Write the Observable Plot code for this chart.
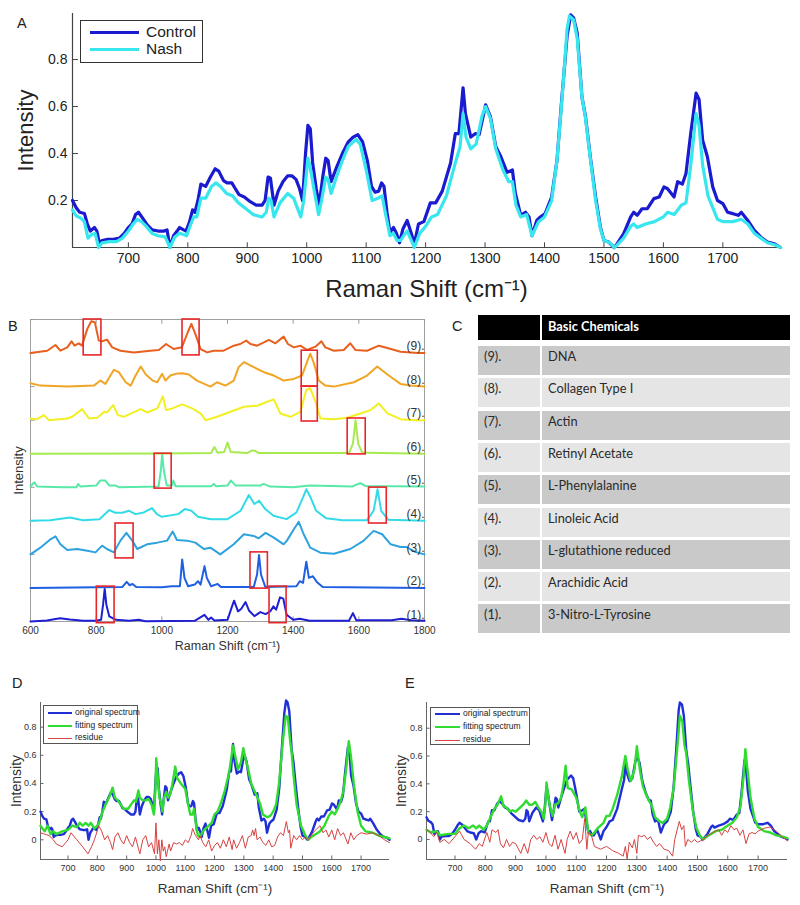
<!DOCTYPE html>
<html><head><meta charset="utf-8">
<script src="https://cdn.jsdelivr.net/npm/d3@7"></script>
<script src="https://cdn.jsdelivr.net/npm/@observablehq/plot@0.6"></script>
<style>
body{margin:0;background:#fff;}
#root{position:relative;width:800px;height:905px;overflow:hidden;font-family:'Liberation Sans',Arial,sans-serif;color:#222;}
.lbl{position:absolute;font-size:14px;line-height:14px;}
.cell{position:absolute;font-family:Lato,'Open Sans',sans-serif;font-size:12.8px;color:#2a2a2a;box-sizing:border-box;padding:3px 0 0 6px;line-height:15px;}
.leg{position:absolute;background:#fff;box-sizing:border-box;}
.legline{position:absolute;}
.legtxt{position:absolute;white-space:nowrap;}
</style></head><body><div id="root"></div>
<script>
// ---------------- DATA ----------------
// Panel A
const xDomA = [606, 1797];
const yDomA = [0, 0.996];
const xTicksA = [700, 800, 900, 1000, 1100, 1200, 1300, 1400, 1500, 1600, 1700];
const yTicksA = [0.2, 0.4, 0.6, 0.8];
const seriesA = ["Control", "Nash"];
const control = [[606,0.20],[612,0.17],[618,0.15],[626,0.145],[631,0.10],[636,0.07],[643,0.085],[647,0.07],[651,0.02],[656,0.03],[665,0.035],[675,0.035],[685,0.04],[693,0.06],[700,0.085],[706,0.10],[712,0.14],[717,0.15],[724,0.125],[732,0.095],[740,0.075],[750,0.07],[760,0.07],[765,0.075],[770,0.0],[776,0.05],[782,0.07],[786,0.085],[793,0.075],[797,0.07],[803,0.11],[808,0.16],[812,0.15],[817,0.20],[822,0.27],[830,0.26],[838,0.30],[846,0.335],[852,0.325],[860,0.285],[866,0.275],[874,0.275],[880,0.25],[886,0.225],[895,0.215],[905,0.195],[915,0.18],[925,0.18],[930,0.20],[935,0.30],[939,0.295],[945,0.18],[952,0.24],[960,0.28],[968,0.305],[975,0.305],[982,0.29],[988,0.25],[993,0.20],[998,0.40],[1002,0.52],[1006,0.505],[1010,0.36],[1016,0.25],[1021,0.18],[1027,0.30],[1032,0.38],[1036,0.37],[1041,0.28],[1050,0.34],[1060,0.40],[1070,0.45],[1078,0.47],[1086,0.48],[1094,0.45],[1102,0.37],[1109,0.26],[1115,0.235],[1121,0.24],[1126,0.275],[1130,0.26],[1135,0.15],[1140,0.065],[1146,0.085],[1151,0.06],[1156,0.02],[1162,0.08],[1169,0.115],[1176,0.06],[1181,0.015],[1188,0.10],[1197,0.11],[1208,0.19],[1217,0.19],[1228,0.24],[1242,0.36],[1250,0.485],[1256,0.485],[1263,0.68],[1267,0.57],[1276,0.47],[1284,0.485],[1290,0.48],[1301,0.607],[1309,0.557],[1318,0.43],[1326,0.39],[1337,0.32],[1346,0.33],[1351,0.23],[1360,0.137],[1368,0.15],[1374,0.13],[1379,0.05],[1387,0.115],[1393,0.13],[1401,0.144],[1412,0.215],[1421,0.37],[1429,0.63],[1438,0.90],[1444,0.99],[1449,0.977],[1455,0.913],[1463,0.64],[1469,0.557],[1477,0.386],[1486,0.215],[1494,0.087],[1500,0.03],[1508,0.023],[1517,0.0],[1522,0.015],[1533,0.058],[1545,0.13],[1550,0.15],[1556,0.137],[1564,0.165],[1573,0.165],[1584,0.208],[1593,0.215],[1601,0.258],[1607,0.25],[1618,0.215],[1624,0.28],[1632,0.27],[1638,0.315],[1646,0.486],[1655,0.657],[1660,0.63],[1666,0.457],[1674,0.386],[1683,0.258],[1691,0.20],[1700,0.187],[1708,0.15],[1717,0.144],[1726,0.137],[1731,0.15],[1742,0.115],[1753,0.073],[1764,0.044],[1775,0.023],[1787,0.016],[1797,0.0]];
const nash = [[606,0.16],[612,0.135],[620,0.125],[626,0.11],[632,0.04],[638,0.055],[644,0.06],[650,0.0],[656,0.02],[668,0.025],[680,0.025],[690,0.04],[700,0.07],[708,0.10],[715,0.12],[722,0.11],[730,0.09],[740,0.06],[750,0.05],[762,0.045],[770,0.0],[778,0.045],[786,0.06],[793,0.055],[798,0.05],[805,0.10],[810,0.13],[815,0.13],[822,0.21],[830,0.21],[840,0.26],[847,0.275],[855,0.26],[865,0.23],[875,0.22],[885,0.19],[895,0.17],[910,0.14],[925,0.13],[932,0.15],[936,0.21],[940,0.20],[945,0.13],[955,0.19],[968,0.23],[978,0.21],[990,0.13],[995,0.20],[1002,0.38],[1006,0.34],[1012,0.25],[1020,0.14],[1025,0.20],[1032,0.30],[1036,0.29],[1041,0.23],[1050,0.30],[1060,0.37],[1070,0.43],[1083,0.46],[1090,0.44],[1100,0.33],[1110,0.20],[1120,0.21],[1127,0.22],[1132,0.15],[1140,0.05],[1146,0.06],[1152,0.03],[1158,0.03],[1163,0.05],[1169,0.07],[1176,0.03],[1181,0.0],[1190,0.06],[1200,0.09],[1210,0.13],[1220,0.14],[1235,0.22],[1250,0.36],[1258,0.43],[1263,0.57],[1268,0.47],[1276,0.42],[1285,0.44],[1295,0.56],[1301,0.60],[1309,0.55],[1318,0.42],[1330,0.33],[1340,0.28],[1346,0.28],[1352,0.18],[1360,0.13],[1370,0.14],[1379,0.05],[1390,0.11],[1400,0.13],[1412,0.20],[1421,0.37],[1430,0.65],[1438,0.93],[1442,0.985],[1449,0.97],[1455,0.89],[1463,0.64],[1469,0.55],[1477,0.38],[1486,0.20],[1494,0.08],[1500,0.03],[1510,0.02],[1517,0.0],[1522,0.01],[1533,0.04],[1545,0.09],[1550,0.10],[1556,0.085],[1570,0.10],[1585,0.11],[1600,0.13],[1607,0.15],[1618,0.14],[1630,0.18],[1638,0.19],[1646,0.35],[1655,0.57],[1660,0.52],[1666,0.35],[1675,0.22],[1683,0.17],[1691,0.12],[1700,0.11],[1717,0.11],[1731,0.12],[1742,0.10],[1753,0.06],[1764,0.04],[1775,0.02],[1787,0.012],[1797,0.0]];

// Panel B: reference spectra (normalised, stacked)
const xDomB = [600, 1800];
const xTicksB = [600, 800, 1000, 1200, 1400, 1600, 1800];
const specLabels = ["(1).", "(2).", "(3).", "(4).", "(5).", "(6).", "(7).", "(8).", "(9)."];
const specOffsets = [0, 1, 2, 3, 4, 5, 6, 7, 8];
const spec1 = [[600,0],[650,0.03],[690,0.1],[720,0.06],[760,0.02],[800,0.02],[815,0.05],[821,0.5],[826,0.97],[831,0.5],[840,0.15],[860,0.05],[900,0.02],[930,0.05],[950,0.01],[1100,0.02],[1130,0.2],[1142,0.05],[1150,0.12],[1160,0.03],[1200,0.05],[1212,0.4],[1220,0.62],[1232,0.3],[1242,0.38],[1255,0.58],[1266,0.32],[1282,0.16],[1300,0.28],[1316,0.22],[1330,0.3],[1340,0.45],[1348,0.35],[1360,0.72],[1370,0.68],[1380,0.2],[1400,0.05],[1420,0.08],[1450,0.02],[1570,0.02],[1582,0.25],[1592,0.04],[1700,0.04],[1730,0.08],[1760,0.04],[1800,0.02]];
const spec2 = [[600,0],[800,0.02],[880,0.03],[893,0.18],[902,0.08],[911,0.12],[922,0.03],[1000,0.02],[1030,0.05],[1055,0.05],[1062,0.85],[1069,0.3],[1080,0.05],[1100,0.1],[1110,0.2],[1118,0.1],[1130,0.65],[1137,0.3],[1150,0.05],[1170,0.12],[1180,0.03],[1280,0.03],[1290,0.4],[1296,0.98],[1302,0.4],[1315,0.03],[1410,0.05],[1420,0.2],[1430,0.15],[1440,0.78],[1448,0.3],[1460,0.35],[1472,0.18],[1490,0.03],[1800,0.0]];
const spec3 = [[600,0],[630,0.2],[661,0.45],[676,0.54],[691,0.3],[712,0.13],[742,0.16],[773,0.11],[798,0.06],[818,0.26],[833,0.16],[854,0.06],[874,0.41],[892,0.64],[910,0.41],[925,0.16],[955,0.3],[986,0.35],[1016,0.41],[1033,0.68],[1046,0.43],[1077,0.41],[1102,0.35],[1128,0.16],[1148,0.2],[1178,0.0],[1219,0.3],[1250,0.6],[1280,0.55],[1295,0.48],[1316,0.64],[1341,0.5],[1371,0.3],[1381,0.41],[1402,0.75],[1417,0.97],[1432,0.6],[1452,0.2],[1483,0.05],[1524,0.02],[1574,0.16],[1615,0.41],[1645,0.7],[1671,0.6],[1697,0.3],[1727,0.22],[1745,0.22],[1770,0.08],[1800,0.0]];
const spec4 = [[600,0],[660,0.02],[720,0.1],[760,0.02],[810,0.05],[840,0.32],[858,0.24],[880,0.24],[900,0.3],[920,0.2],[945,0.25],[970,0.38],[985,0.2],[1000,0.12],[1050,0.2],[1070,0.35],[1090,0.3],[1110,0.12],[1150,0.05],[1200,0.05],[1240,0.3],[1265,0.77],[1282,0.5],[1296,0.6],[1315,0.35],[1340,0.15],[1380,0.05],[1410,0.25],[1430,0.7],[1440,0.94],[1452,0.72],[1470,0.3],[1500,0.08],[1550,0.02],[1625,0.02],[1645,0.3],[1657,0.94],[1668,0.3],[1690,0.03],[1800,0.0]];
const spec5 = [[600,0.03],[612,0.15],[620,0.02],[700,0.0],[740,0.0],[745,0.1],[752,0.02],[800,0.05],[812,0.2],[828,0.2],[840,0.05],[860,0.05],[870,0.0],[990,0.02],[997,0.5],[1001,1.0],[1006,0.5],[1015,0.05],[1030,0.05],[1035,0.2],[1042,0.03],[1150,0.03],[1158,0.1],[1165,0.03],[1200,0.05],[1210,0.2],[1225,0.05],[1300,0.05],[1310,0.1],[1330,0.02],[1400,0.0],[1450,0.05],[1580,0.02],[1590,0.07],[1605,0.12],[1620,0.04],[1800,0.02]];
const spec6 = [[600,0],[1000,0.01],[1150,0.02],[1160,0.2],[1170,0.03],[1190,0.05],[1200,0.33],[1210,0.05],[1260,0.02],[1275,0.1],[1285,0.08],[1295,0.02],[1570,0.02],[1582,0.3],[1590,1.0],[1598,0.3],[1610,0.03],[1630,0.03],[1800,0]];
const spec7 = [[600,0.05],[620,0.03],[641,0.15],[656,0.0],[712,0.05],[727,0.1],[757,0.33],[778,0.05],[803,0.07],[825,0.25],[833,0.23],[852,0.45],[866,0.15],[884,0.1],[935,0.33],[955,0.23],[986,0.35],[1003,0.71],[1013,0.3],[1026,0.33],[1062,0.47],[1092,0.35],[1118,0.2],[1133,0.0],[1168,0.1],[1209,0.25],[1250,0.4],[1290,0.43],[1321,0.55],[1341,0.62],[1361,0.2],[1392,0.1],[1422,0.25],[1440,0.9],[1452,0.95],[1468,0.55],[1483,0.05],[1524,0.03],[1564,0.07],[1605,0.2],[1636,0.3],[1661,0.5],[1687,0.2],[1727,0.03],[1768,0.0],[1800,0.0]];
const spec8 = [[600,0.1],[630,0.03],[712,0.0],[793,0.03],[813,0.18],[828,0.08],[854,0.5],[869,0.43],[890,0.13],[905,0.03],[920,0.33],[936,0.6],[951,0.36],[972,0.18],[986,0.13],[1001,0.38],[1011,0.18],[1026,0.33],[1042,0.38],[1062,0.4],[1082,0.36],[1107,0.18],[1148,0.0],[1168,0.13],[1194,0.03],[1219,0.18],[1234,0.58],[1250,0.73],[1280,0.58],[1311,0.43],[1341,0.33],[1371,0.18],[1402,0.23],[1427,0.33],[1442,0.73],[1452,0.98],[1462,0.73],[1478,0.18],[1498,0.03],[1524,0.0],[1585,0.13],[1625,0.33],[1656,0.6],[1687,0.36],[1727,0.08],[1758,0.03],[1800,0.0]];
const spec9 = [[600,0.0],[651,0.07],[676,0.24],[691,0.07],[712,0.17],[725,0.35],[734,0.22],[747,0.29],[757,0.22],[773,0.72],[785,0.95],[796,0.92],[808,0.37],[818,0.35],[833,0.4],[849,0.17],[874,0.07],[915,0.02],[965,0.07],[991,0.09],[1013,0.27],[1036,0.12],[1061,0.17],[1079,0.62],[1090,0.87],[1102,0.57],[1118,0.12],[1138,0.02],[1158,0.07],[1188,0.07],[1219,0.22],[1239,0.27],[1257,0.37],[1270,0.27],[1290,0.22],[1311,0.32],[1326,0.39],[1346,0.29],[1371,0.49],[1384,0.27],[1402,0.17],[1422,0.22],[1442,0.09],[1468,0.19],[1486,0.35],[1498,0.17],[1524,0.07],[1554,0.09],[1574,0.29],[1590,0.09],[1625,0.07],[1661,0.22],[1687,0.15],[1727,0.04],[1780,0.0],[1800,0.0]];
const spectra = [spec1, spec2, spec3, spec4, spec5, spec6, spec7, spec8, spec9];
const highlightBoxes = [
  {x1:762,x2:816,y1:7.93,y2:9},{x1:1063,x2:1115,y1:7.93,y2:9},
  {x1:1426,x2:1475,y1:7.0,y2:8.07},{x1:1426,x2:1475,y1:5.96,y2:7.0},
  {x1:1566,x2:1621,y1:4.98,y2:6.05},{x1:978,x2:1030,y1:3.96,y2:5.0},
  {x1:1631,x2:1685,y1:2.92,y2:3.99},{x1:859,x2:914,y1:1.88,y2:2.92},
  {x1:1270,x2:1323,y1:0.98,y2:2.06},{x1:802,x2:856,y1:-0.05,y2:1.04},
  {x1:1328,x2:1380,y1:-0.05,y2:1.04}];

// Panel C table
const tableHeader = ["", "Basic Chemicals"];
const tableNums = ["(9).", "(8).", "(7).", "(6).", "(5).", "(4).", "(3).", "(2).", "(1)."];
const tableNames = ["DNA", "Collagen Type I", "Actin", "Retinyl Acetate", "L-Phenylalanine", "Linoleic Acid", "L-glutathione reduced", "Arachidic Acid", "3-Nitro-L-Tyrosine"];

// Panels D & E
const xDomDE = [606, 1797];
const yDomD = [-0.14, 0.975];
const yDomE = [-0.144, 0.985];
const yTicksDE = [0, 0.2, 0.4, 0.6, 0.8];
const seriesDE = ["original spectrum", "fitting spectrum", "residue"];
const fitD = [[606,0.10],[620,0.06],[630,0.10],[640,0.04],[650,0.06],[660,0.04],[680,0.06],[700,0.07],[715,0.10],[730,0.09],[740,0.12],[750,0.10],[760,0.12],[770,0.10],[778,0.12],[790,0.08],[800,0.10],[806,0.12],[818,0.20],[830,0.26],[840,0.30],[852,0.37],[860,0.30],[870,0.28],[880,0.25],[890,0.22],[905,0.22],[915,0.25],[925,0.28],[932,0.27],[940,0.35],[945,0.30],[955,0.28],[965,0.28],[975,0.29],[985,0.25],[993,0.18],[998,0.35],[1001,0.58],[1006,0.45],[1012,0.30],[1018,0.25],[1022,0.20],[1028,0.30],[1035,0.34],[1042,0.30],[1050,0.33],[1058,0.42],[1066,0.52],[1072,0.44],[1085,0.40],[1100,0.36],[1110,0.25],[1117,0.18],[1125,0.18],[1130,0.22],[1137,0.10],[1143,0.03],[1150,0.02],[1160,0.06],[1170,0.08],[1180,0.10],[1190,0.12],[1200,0.18],[1210,0.20],[1220,0.25],[1235,0.35],[1250,0.48],[1263,0.67],[1270,0.60],[1280,0.50],[1290,0.55],[1298,0.65],[1305,0.58],[1315,0.50],[1325,0.40],[1340,0.33],[1355,0.26],[1365,0.18],[1380,0.16],[1390,0.17],[1400,0.20],[1410,0.25],[1420,0.40],[1433,0.70],[1443,0.88],[1450,0.87],[1458,0.70],[1463,0.62],[1470,0.45],[1480,0.25],[1495,0.10],[1510,0.03],[1520,0.00],[1530,0.02],[1545,0.04],[1560,0.06],[1575,0.10],[1590,0.17],[1600,0.20],[1610,0.18],[1620,0.22],[1630,0.27],[1640,0.35],[1650,0.52],[1658,0.70],[1665,0.60],[1675,0.40],[1688,0.20],[1700,0.10],[1715,0.06],[1740,0.05],[1760,0.03],[1780,0.02],[1797,0.01]];
const resD = [[606,0.05],[620,0.04],[635,0.03],[650,0.0],[660,-0.03],[680,-0.05],[700,0.0],[710,0.05],[730,0.0],[750,-0.05],[768,-0.1],[780,-0.05],[790,0.0],[805,0.1],[815,0.06],[825,0.0],[835,0.03],[845,-0.02],[852,-0.07],[860,0.02],[870,0.05],[880,0.0],[890,-0.03],[900,0.03],[910,-0.02],[920,-0.05],[930,0.02],[940,-0.06],[945,-0.1],[955,0.0],[965,0.03],[975,-0.05],[985,-0.02],[995,-0.1],[1000,0.12],[1005,-0.1],[1010,0.0],[1015,-0.15],[1020,0.0],[1025,-0.08],[1030,-0.05],[1035,-0.12],[1045,-0.03],[1050,-0.08],[1060,-0.02],[1070,-0.03],[1080,-0.02],[1090,-0.04],[1100,0.0],[1110,-0.02],[1120,0.03],[1125,0.08],[1135,0.03],[1145,0.0],[1150,0.03],[1160,-0.02],[1170,-0.05],[1180,0.0],[1190,-0.08],[1200,-0.04],[1210,-0.02],[1220,-0.06],[1230,0.0],[1240,-0.05],[1250,0.02],[1260,-0.07],[1265,0.0],[1275,-0.06],[1285,-0.02],[1295,0.03],[1305,-0.06],[1315,0.02],[1325,0.03],[1330,0.07],[1335,0.03],[1340,0.08],[1345,0.0],[1355,0.02],[1365,-0.02],[1375,-0.04],[1385,0.0],[1395,-0.05],[1405,-0.04],[1415,0.02],[1425,0.05],[1435,0.03],[1445,0.13],[1452,0.05],[1456,0.07],[1460,-0.06],[1470,0.03],[1480,0.0],[1490,0.03],[1500,0.0],[1510,0.02],[1520,0.0],[1530,0.03],[1540,0.06],[1560,0.1],[1570,0.05],[1580,0.07],[1590,0.02],[1600,0.07],[1610,0.0],[1620,0.08],[1630,0.03],[1640,0.05],[1655,-0.03],[1665,0.05],[1675,0.0],[1685,0.03],[1700,0.05],[1720,0.04],[1740,0.05],[1760,0.03],[1780,0.0],[1797,-0.02]];
const fitE = [[606,0.07],[620,0.05],[640,0.06],[650,0.03],[680,0.04],[700,0.04],[715,0.08],[730,0.10],[745,0.08],[760,0.10],[770,0.08],[780,0.10],[795,0.07],[805,0.10],[815,0.15],[830,0.22],[840,0.25],[852,0.31],[860,0.24],[870,0.23],[880,0.20],[890,0.21],[900,0.20],[915,0.23],[925,0.25],[935,0.28],[945,0.25],[955,0.25],[965,0.27],[975,0.23],[985,0.20],[993,0.15],[998,0.25],[1002,0.41],[1008,0.30],[1015,0.22],[1022,0.17],[1030,0.25],[1040,0.26],[1050,0.30],[1058,0.40],[1065,0.53],[1072,0.37],[1085,0.36],[1100,0.30],[1112,0.20],[1120,0.16],[1130,0.23],[1140,0.05],[1150,0.03],[1160,0.05],[1170,0.08],[1180,0.10],[1190,0.12],[1200,0.17],[1210,0.17],[1220,0.22],[1235,0.32],[1250,0.45],[1262,0.60],[1270,0.50],[1280,0.42],[1292,0.50],[1300,0.67],[1310,0.50],[1320,0.38],[1335,0.30],[1350,0.24],[1360,0.16],[1375,0.13],[1385,0.12],[1400,0.15],[1410,0.23],[1422,0.38],[1435,0.70],[1442,0.89],[1450,0.85],[1457,0.68],[1463,0.62],[1472,0.42],[1485,0.20],[1497,0.08],[1510,0.02],[1520,0.0],[1530,0.02],[1545,0.04],[1560,0.06],[1580,0.07],[1600,0.10],[1615,0.12],[1630,0.16],[1642,0.24],[1652,0.45],[1658,0.65],[1665,0.50],[1675,0.30],[1688,0.15],[1700,0.09],[1720,0.06],[1740,0.05],[1760,0.03],[1780,0.02],[1797,0.01]];
const resE = [[606,0.07],[615,0.06],[630,0.02],[640,0.05],[650,-0.02],[665,0.0],[680,-0.03],[700,0.02],[715,0.06],[730,0.0],[750,-0.03],[768,-0.07],[780,-0.03],[790,-0.05],[805,0.05],[815,-0.02],[822,0.07],[835,0.05],[842,0.07],[850,-0.03],[860,-0.06],[870,0.0],[880,-0.05],[890,-0.02],[900,-0.03],[917,-0.1],[928,-0.03],[940,-0.1],[950,0.0],[960,0.03],[970,0.0],[980,0.02],[990,-0.02],[1000,0.05],[1010,-0.03],[1020,-0.05],[1030,0.03],[1040,-0.07],[1050,0.0],[1063,-0.1],[1070,0.0],[1080,0.06],[1090,0.0],[1100,0.05],[1110,-0.03],[1120,0.0],[1128,0.15],[1135,-0.07],[1140,0.05],[1150,0.03],[1160,-0.05],[1180,-0.07],[1200,-0.05],[1220,-0.08],[1240,-0.1],[1255,-0.12],[1262,-0.05],[1268,-0.14],[1275,-0.02],[1285,-0.06],[1292,0.0],[1300,-0.1],[1305,0.03],[1315,0.02],[1325,0.03],[1335,0.0],[1345,0.02],[1355,-0.02],[1365,-0.05],[1375,-0.03],[1390,-0.07],[1405,-0.08],[1418,-0.12],[1425,0.0],[1440,0.13],[1448,0.07],[1455,0.1],[1460,-0.05],[1468,0.0],[1480,-0.02],[1490,0.0],[1500,-0.02],[1510,-0.01],[1520,0.0],[1535,0.03],[1550,0.05],[1570,0.07],[1580,0.03],[1590,0.07],[1600,0.05],[1610,0.1],[1620,0.07],[1630,0.08],[1640,0.03],[1650,0.07],[1660,-0.03],[1670,0.04],[1680,0.05],[1690,0.04],[1700,0.06],[1720,0.08],[1740,0.09],[1760,0.06],[1780,0.02],[1797,-0.01]];

// ---------------- STYLE ----------------
const FONT = "'Liberation Sans', Arial, sans-serif";
const C_CONTROL = "#1a1ad0", C_NASH = "#38e6ee";
const specColors = ["#1e1ed2", "#1f5fe2", "#2ea2de", "#33dbe9", "#58e8a8", "#a6ea50", "#f2ef22", "#f0a524", "#e8601e"];
const C_ORIG = "#2030d6", C_FIT = "#30dc30", C_RES = "#d64242";
const AXIS = "#444";
const xlabel = "Raman Shift (cm\u207B\u00B9)";

const root = document.getElementById("root");
function place(el, left, top) {
  el.style.position = "absolute"; el.style.left = left + "px"; el.style.top = top + "px";
  el.style.overflow = "visible"; el.style.maxWidth = "none";
  root.appendChild(el);
}
function div(cls, css, text) {
  const d = document.createElement("div"); d.className = cls; d.style.cssText = css;
  if (text != null) d.textContent = text; root.appendChild(d); return d;
}
const px = d => d[0], py = d => d[1];

// ---------------- PANEL A ----------------
const plotA = Plot.plot({
  width: 800, height: 305, marginLeft: 72, marginRight: 20, marginTop: 13, marginBottom: 58,
  style: {fontFamily: FONT, fontSize: "14px", color: "#222", background: "transparent", overflow: "visible"},
  x: {domain: xDomA, ticks: xTicksA, tickSize: 0, tickPadding: 6, tickFormat: d => String(d), label: null},
  y: {domain: yDomA, ticks: yTicksA, tickSize: 0, tickPadding: 5, tickFormat: d => d.toFixed(1), label: null},
  marks: [
    Plot.ruleX([xDomA[0]], {stroke: AXIS, strokeWidth: 1.2}),
    Plot.ruleY([yDomA[0]], {stroke: AXIS, strokeWidth: 1.2}),
    Plot.ruleX(xTicksA, {x: d => d, y1: yDomA[0], y2: yDomA[0] + 0.02, stroke: AXIS}),
    Plot.ruleY(yTicksA, {y: d => d, x1: xDomA[0], x2: xDomA[0] + 10, stroke: AXIS}),
    Plot.line(control, {x: px, y: py, stroke: C_CONTROL, strokeWidth: 3.2}),
    Plot.line(nash, {x: px, y: py, stroke: C_NASH, strokeWidth: 3.2}),
    Plot.text([xlabel], {text: d => d, frameAnchor: "bottom", textAnchor: "middle", lineAnchor: "middle", dy: 42, fontSize: 24}),
    Plot.text(["Intensity"], {text: d => d, frameAnchor: "left", textAnchor: "middle", lineAnchor: "middle", rotate: -90, dx: -47, fontSize: 22})
  ]
});
place(plotA, 0, 0);

// legend A
div("leg", "left:80px;top:20px;width:123px;height:43px;border:1px solid #333;");
[C_CONTROL, C_NASH].forEach((c, i) => {
  div("legline", `left:90px;top:${32 + i * 17 - 1.5}px;width:49px;height:3px;background:${c};`);
  div("legtxt", `left:146px;top:${32 + i * 17 - 9}px;font-size:15.5px;line-height:18px;`, seriesA[i]);
});

// ---------------- PANEL B ----------------
const bMarks = [
  Plot.frame({stroke: "#a0a0a0"}),
  Plot.ruleX(xTicksB, {x: d => d, y1: 0, y2: 0.14, stroke: "#999"}),
  Plot.ruleX(xTicksB, {x: d => d, y1: 9, y2: 8.86, stroke: "#999"}),
  Plot.ruleY(d3.range(0, 10), {y: d => d, x1: xDomB[0], x2: xDomB[0] + 14, stroke: "#999"})
];
spectra.forEach((s, i) => {
  bMarks.push(Plot.line(s, {x: px, y: d => d[1] + specOffsets[i], stroke: specColors[i], strokeWidth: 2}));
});
bMarks.push(Plot.text(specLabels, {text: d => d, x: xDomB[1], y: (d, i) => specOffsets[i] + 0.2, textAnchor: "end", lineAnchor: "middle", fontSize: 12, fill: "#333"}));
bMarks.push(Plot.rect(highlightBoxes, {x1: "x1", x2: "x2", y1: "y1", y2: "y2", fill: "none", stroke: "#e8262a", strokeWidth: 1.6}));
bMarks.push(Plot.text([xlabel], {text: d => d, frameAnchor: "bottom", textAnchor: "middle", lineAnchor: "middle", dy: 24, fontSize: 12.5}));
bMarks.push(Plot.text(["Intensity"], {text: d => d, frameAnchor: "left", textAnchor: "middle", lineAnchor: "middle", rotate: -90, dx: -12, fontSize: 13}));
const plotB = Plot.plot({
  width: 440, height: 360, marginLeft: 30, marginRight: 16, marginTop: 19, marginBottom: 39,
  style: {fontFamily: FONT, fontSize: "10px", color: "#333", background: "transparent", overflow: "visible"},
  x: {domain: xDomB, ticks: xTicksB, tickSize: 0, tickPadding: 5, tickFormat: d => String(d), label: null},
  y: {domain: [0, 9], axis: null},
  marks: bMarks
});
place(plotB, 0, 300);

// ---------------- PANEL C (table) ----------------
const tLeft = 478, c1w = 62, c2Left = 542, tRight = 790;
div("cell", `left:${tLeft}px;top:315px;width:${c1w}px;height:25px;background:#000;`);
div("cell", `left:${c2Left}px;top:315px;width:${tRight - c2Left}px;height:25px;background:#000;color:#fff;font-weight:bold;padding-top:4px;`, tableHeader[1]);
tableNums.forEach((n, i) => {
  const top = 346 + i * 32.3;
  const bg = i % 2 === 0 ? "#c9c9c9" : "#e5e5e5";
  div("cell", `left:${tLeft}px;top:${top}px;width:${c1w}px;height:29px;background:${bg};`, n);
  div("cell", `left:${c2Left}px;top:${top}px;width:${tRight - c2Left}px;height:29px;background:${bg};`, tableNames[i]);
});

// ---------------- PANELS D & E ----------------
function fitPanel(orig, fit, res, yDom, opts) {
  return Plot.plot({
    width: opts.width, height: 245, marginLeft: opts.ml, marginRight: opts.mr, marginTop: 42, marginBottom: 46,
    style: {fontFamily: FONT, fontSize: "9px", color: "#333", background: "transparent", overflow: "visible"},
    x: {domain: xDomDE, ticks: xTicksA, tickSize: 0, tickPadding: 5, tickFormat: d => String(d), label: null},
    y: {domain: yDom, ticks: yTicksDE, tickSize: 0, tickPadding: 4, tickFormat: d => d === 0 ? "0" : d.toFixed(1), label: null},
    marks: [
      Plot.ruleX([xDomDE[0]], {stroke: "#666"}),
      Plot.ruleY([yDom[0]], {stroke: "#666"}),
      Plot.ruleX(xTicksA, {x: d => d, y1: yDom[0], y2: yDom[0] + 0.025, stroke: "#666"}),
      Plot.ruleY(yTicksDE, {y: d => d, x1: xDomDE[0], x2: xDomDE[0] + 12, stroke: "#666"}),
      Plot.line(orig, {x: px, y: py, stroke: C_ORIG, strokeWidth: 2.4}),
      Plot.line(fit, {x: px, y: py, stroke: C_FIT, strokeWidth: 2.4}),
      Plot.line(res, {x: px, y: py, stroke: C_RES, strokeWidth: 1}),
      Plot.text([xlabel], {text: d => d, frameAnchor: "bottom", textAnchor: "middle", lineAnchor: "middle", dy: 29, fontSize: 13.5}),
      Plot.text(["Intensity"], {text: d => d, frameAnchor: "left", textAnchor: "middle", lineAnchor: "middle", rotate: -90, dx: opts.ylDx, fontSize: 14})
    ]
  });
}
place(fitPanel(control, fitD, resD, yDomD, {width: 400, ml: 40, mr: 11, ylDx: -24}), 0, 660);
place(fitPanel(nash, fitE, resE, yDomE, {width: 410, ml: 36, mr: 13, ylDx: -25}), 390, 660);

function fitLegend(left, top, w, h, lineLeft, lineW, textLeft, rowY) {
  div("leg", `left:${left}px;top:${top}px;width:${w}px;height:${h}px;border:1px solid #555;`);
  [C_ORIG, C_FIT, C_RES].forEach((c, i) => {
    const lw = i === 2 ? 1 : 2.5;
    div("legline", `left:${lineLeft}px;top:${rowY[i] - lw / 2}px;width:${lineW}px;height:${lw}px;background:${c};`);
    div("legtxt", `left:${textLeft}px;top:${rowY[i] - 6}px;font-size:8.5px;line-height:11px;color:#222;`, seriesDE[i]);
  });
}
fitLegend(43, 705, 95, 39, 48, 24, 75, [713, 726, 738]);
fitLegend(430, 707, 100, 38, 435, 25, 463, [714, 727, 740]);

// ---------------- PANEL LETTERS ----------------
[["A", 17, 16], ["B", 8, 319], ["C", 452, 319], ["D", 12, 676], ["E", 405, 676]].forEach(([t, l, tp]) => {
  div("lbl", `left:${l}px;top:${tp}px;font-size:14.5px;`, t);
});
</script></body></html>
